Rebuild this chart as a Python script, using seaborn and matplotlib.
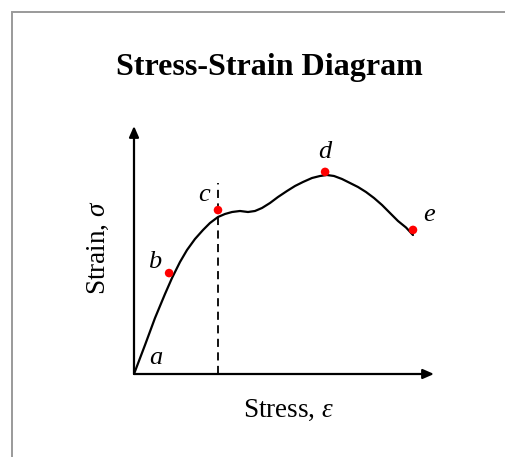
import matplotlib
matplotlib.use("Agg")
import matplotlib.pyplot as plt
from matplotlib.patches import Rectangle
import seaborn as sns
import pandas as pd

# Curve samples (strain axis horizontal, stress vertical, arbitrary units 0-10)
curve_x = [0.0, 0.367, 0.70, 1.033, 1.267, 1.533, 1.767, 2.033, 2.3, 2.533,
           2.8, 3.033, 3.267, 3.533, 3.8, 4.033, 4.267, 4.533, 4.8, 5.1,
           5.367, 5.633, 5.933, 6.2, 6.433, 6.667, 6.933, 7.2, 7.467, 7.733,
           8.0, 8.267, 8.533, 8.8, 9.067, 9.3]
curve_y = [0.0, 1.169, 2.258, 3.226, 3.871, 4.516, 5.0, 5.444, 5.806, 6.089,
           6.331, 6.452, 6.532, 6.573, 6.532, 6.573, 6.694, 6.895, 7.137, 7.379,
           7.581, 7.742, 7.903, 7.984, 8.024, 7.984, 7.863, 7.702, 7.540, 7.339,
           7.097, 6.815, 6.492, 6.169, 5.907, 5.605]

# Key points on the diagram
point_names = ["b", "c", "d", "e"]
point_x = [1.17, 2.8, 6.37, 9.3]
point_y = [4.07, 6.61, 8.15, 5.81]

# Letter labels and their positions
label_names = ["a", "b", "c", "d", "e"]
label_x = [0.73, 0.7, 2.33, 6.37, 9.83]
label_y = [0.65, 4.5, 7.21, 8.95, 6.41]

# Yield line
yield_x = 2.8
yield_top = 7.70

sns.set_theme(style="white")
plt.rcParams["font.family"] = ["Liberation Serif", "DejaVu Serif"]
plt.rcParams["text.color"] = "black"
plt.rcParams["mathtext.fontset"] = "custom"
plt.rcParams["mathtext.rm"] = "Liberation Serif"
plt.rcParams["mathtext.it"] = "Liberation Serif:italic"
plt.rcParams["mathtext.bf"] = "Liberation Serif:bold"

W, H = 505, 457
fig = plt.figure(figsize=(W / 100, H / 100), dpi=100)
fig.patch.set_facecolor("white")

# Outer frame
fig.patches.append(Rectangle((12 / W, -0.1), 1.2, (H - 12) / H + 0.1,
                             transform=fig.transFigure, fill=False,
                             edgecolor="#9a9a9a", linewidth=1.4))

x0, x1, y0, y1 = 134, 434, 374, 126
ax = fig.add_axes([x0 / W, (H - y0) / H, (x1 - x0) / W, (y0 - y1) / H])
ax.set_xlim(0, 10)
ax.set_ylim(0, 10)
for s in ax.spines.values():
    s.set_visible(False)
ax.set_xticks([])
ax.set_yticks([])
ax.patch.set_alpha(0)

curve = pd.DataFrame({"strain": curve_x, "stress": curve_y})
sns.lineplot(data=curve, x="strain", y="stress", color="black", linewidth=1.6,
             sort=False, ax=ax, solid_joinstyle="round", solid_capstyle="round")

ax.plot([yield_x, yield_x], [0, yield_top], color="black", linewidth=1.3,
        linestyle=(0, (4.5, 3.0)))

pts = pd.DataFrame({"name": point_names, "x": point_x, "y": point_y})
sns.scatterplot(data=pts, x="x", y="y", color="red", s=38, edgecolor="none",
                ax=ax, zorder=5, clip_on=False)

for name, lx, ly in zip(label_names, label_x, label_y):
    ax.text(lx, ly, name, fontsize=19, style="italic", ha="center",
            va="center", color="black")

# Axis arrows
arrow = dict(arrowstyle="-|>,head_length=0.5,head_width=0.22", color="black",
             lw=1.6, shrinkA=0, shrinkB=0, mutation_scale=13)
ax.annotate("", xy=(10, 0), xytext=(0, 0), arrowprops=arrow, annotation_clip=False)
ax.annotate("", xy=(0, 10), xytext=(0, 0), arrowprops=arrow, annotation_clip=False)

ax.set_xlabel("")
ax.set_ylabel("")
fig.text(289 / W, 1 - 410 / H, r"Stress, $\varepsilon$", fontsize=19.5,
         ha="center", va="center", color="black")
fig.text(98 / W, 1 - 248 / H, r"Strain, $\sigma$", fontsize=19.5,
         ha="center", va="center", rotation=90, color="black")
fig.text(269 / W, 1 - 67 / H, "Stress-Strain Diagram", fontsize=23,
         fontweight="bold", ha="center", va="center", color="black")

fig.savefig("out.png", dpi=100)
